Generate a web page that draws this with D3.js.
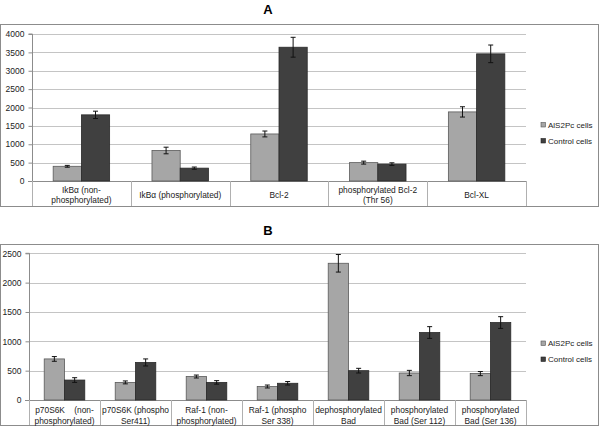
<!DOCTYPE html>
<html><head><meta charset="utf-8">
<script src="https://cdn.jsdelivr.net/npm/d3@7"></script>
<style>
html,body{margin:0;padding:0;background:#fff;}
svg{display:block;font-family:"Liberation Sans",Arial,sans-serif;}
</style></head>
<body><svg id="chart" width="600" height="426"></svg>
<script>
const seriesNames = ["AlS2Pc cells", "Control cells"];
const seriesColors = ["#a6a6a6", "#404040"];

const catsA = [["IkBα (non-", "phosphorylated)"], ["IkBα (phosphorylated)"], ["Bcl-2"], ["phosphorylated Bcl-2", "(Thr 56)"], ["Bcl-XL"]];
const alsA = [400, 830, 1280, 500, 1880];
const alsErrA = [25, 90, 80, 40, 140];
const ctrlA = [1800, 350, 3640, 460, 3460];
const ctrlErrA = [100, 30, 270, 35, 240];
const ticksA = [0, 500, 1000, 1500, 2000, 2500, 3000, 3500, 4000];

const catsB = [["p70S6K    (non-", "phosphorylated)"], ["p70S6K (phospho", "Ser411)"], ["Raf-1 (non-", "phosphorylated)"], ["Raf-1 (phospho", "Ser 338)"], ["dephosphorylated", "Bad"], ["phosphorylated", "Bad (Ser 112)"], ["phosphorylated", "Bad (Ser 136)"]];
const alsB = [700, 300, 400, 230, 2330, 460, 450];
const alsErrB = [40, 25, 25, 25, 150, 45, 35];
const ctrlB = [340, 640, 300, 285, 500, 1150, 1320];
const ctrlErrB = [40, 60, 30, 30, 40, 100, 100];
const ticksB = [0, 500, 1000, 1500, 2000, 2500];

const svg = d3.select("#chart");

function panel(cfg) {
  const g = svg.append("g");
  g.append("rect").attr("x", 0.5).attr("y", cfg.top + 0.5).attr("width", 598).attr("height", cfg.bottom - cfg.top)
    .attr("fill", "none").attr("stroke", "#8c8c8c").attr("stroke-width", 1);
  g.append("text").attr("x", 268).attr("y", cfg.titleY).attr("text-anchor", "middle")
    .attr("font-size", 13).attr("font-weight", "bold").attr("fill", "#000").text(cfg.title);

  const n = cfg.cats.length;
  const x0 = d3.scaleBand().domain(d3.range(n)).range([cfg.left, cfg.right]).padding(0);
  const y = d3.scaleLinear().domain([0, cfg.max]).range([cfg.zero, cfg.ytop]);
  const bw = x0.bandwidth() / 3.5;
  const x1 = d3.scaleBand().domain([0, 1]).range([0, 2 * bw]);

  g.append("g").selectAll("line").data(cfg.ticks.filter(t => t > 0)).join("line")
    .attr("x1", cfg.left).attr("x2", cfg.right)
    .attr("y1", d => Math.round(y(d)) + 0.5).attr("y2", d => Math.round(y(d)) + 0.5)
    .attr("stroke", "#c4c4c4").attr("stroke-width", 1);

  const ya = d3.axisLeft(y).tickValues(cfg.ticks).tickSize(4).tickPadding(4).tickFormat(d3.format("d"));
  const yg = g.append("g").attr("transform", `translate(${cfg.left + 0.5},0)`).call(ya);
  yg.select(".domain").attr("stroke", "#8c8c8c").attr("d", `M-4,${y(cfg.max)}H0V${cfg.zero}`);
  yg.selectAll(".tick line").attr("stroke", "#8c8c8c");
  yg.selectAll(".tick text").attr("font-size", 8.5).attr("fill", "#222").attr("font-family", "Liberation Sans, Arial, sans-serif");

  g.append("line").attr("x1", cfg.left - 4).attr("x2", cfg.right).attr("y1", cfg.zero + 0.5).attr("y2", cfg.zero + 0.5)
    .attr("stroke", "#8c8c8c");
  g.append("g").selectAll("line").data(d3.range(n + 1)).join("line")
    .attr("x1", i => Math.round(cfg.left + i * x0.bandwidth()) + 0.5)
    .attr("x2", i => Math.round(cfg.left + i * x0.bandwidth()) + 0.5)
    .attr("y1", cfg.zero).attr("y2", cfg.bottom)
    .attr("stroke", "#b0b0b0");

  const lab = g.append("g").selectAll("text").data(cfg.cats).join("text")
    .attr("x", (d, i) => x0(i) + x0.bandwidth() / 2)
    .attr("text-anchor", "middle").attr("font-size", 8.4).attr("fill", "#222")
    .style("white-space", "pre");
  lab.each(function (d) {
    const t = d3.select(this);
    d.forEach((line, k) => {
      const cy = d.length === 1 ? cfg.labMid : (k === 0 ? cfg.lab1 : cfg.lab2);
      t.append("tspan").attr("x", t.attr("x")).attr("y", cy + 3).text(line);
    });
  });

  const series = [cfg.als, cfg.ctrl];
  const errs = [cfg.alsErr, cfg.ctrlErr];
  series.forEach((vals, s) => {
    const sg = g.append("g");
    sg.selectAll("rect").data(vals).join("rect")
      .attr("x", (d, i) => x0(i) + (x0.bandwidth() - 2 * bw) / 2 + x1(s))
      .attr("y", d => y(d))
      .attr("width", x1.bandwidth())
      .attr("height", d => cfg.zero - y(d))
      .attr("fill", seriesColors[s])
      .attr("stroke", s === 0 ? "#5a5a5a" : "#2a2a2a").attr("stroke-width", 0.8);
    vals.forEach((v, i) => {
      const cx = x0(i) + (x0.bandwidth() - 2 * bw) / 2 + x1(s) + x1.bandwidth() / 2;
      const e = errs[s][i];
      const eg = sg.append("g").attr("stroke", "#111").attr("stroke-width", 1);
      eg.append("line").attr("x1", cx).attr("x2", cx).attr("y1", y(v + e)).attr("y2", y(v - e));
      eg.append("line").attr("x1", cx - 2.5).attr("x2", cx + 2.5).attr("y1", y(v + e)).attr("y2", y(v + e));
      eg.append("line").attr("x1", cx - 2.5).attr("x2", cx + 2.5).attr("y1", y(v - e)).attr("y2", y(v - e));
    });
  });

  const lg = g.append("g").attr("transform", `translate(541,${cfg.legY})`);
  seriesNames.forEach((name, s) => {
    const row = lg.append("g").attr("transform", `translate(0,${s * 16})`);
    row.append("rect").attr("x", 0).attr("y", -3.5).attr("width", 4.5).attr("height", 4.5)
      .attr("fill", seriesColors[s]).attr("stroke", s === 0 ? "#555" : "#222").attr("stroke-width", 0.6);
    row.append("text").attr("x", 7).attr("y", 1.8).attr("font-size", 8).attr("fill", "#222").text(name);
  });
}

panel({title: "A", titleY: 13.5, top: 24, bottom: 206, left: 32, right: 526, zero: 181, ytop: 34, max: 4000,
  ticks: ticksA, cats: catsA, als: alsA, alsErr: alsErrA, ctrl: ctrlA, ctrlErr: ctrlErrA,
  lab1: 189.5, lab2: 200, labMid: 194.5, legY: 126});
panel({title: "B", titleY: 234.5, top: 244, bottom: 425, left: 29, right: 526, zero: 400, ytop: 253.3, max: 2500,
  ticks: ticksB, cats: catsB, als: alsB, alsErr: alsErrB, ctrl: ctrlB, ctrlErr: ctrlErrB,
  lab1: 409.5, lab2: 420.5, labMid: 414, legY: 344.5});
</script></body></html>
